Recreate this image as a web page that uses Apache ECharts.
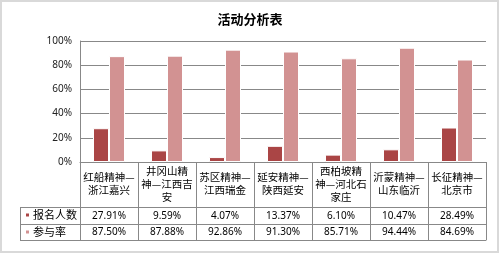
<!DOCTYPE html>
<html><head><meta charset="utf-8">
<script src="https://cdn.jsdelivr.net/npm/echarts@6/dist/echarts.min.js"></script>
<style>html,body{margin:0;padding:0;background:#fff}#c{width:500px;height:255px}</style>
</head><body><div id="c"></div>
<script>
var title = '活动分析表';
var categories = ['红船精神—\n浙江嘉兴', '井冈山精\n神—江西吉\n安', '苏区精神—\n江西瑞金', '延安精神—\n陕西延安', '西柏坡精\n神—河北石\n家庄', '沂蒙精神—\n山东临沂', '长征精神—\n北京市'];
var seriesNames = ['报名人数', '参与率'];
var signup = [27.91, 9.59, 4.07, 13.37, 6.10, 10.47, 28.49];
var participation = [87.50, 87.88, 92.86, 91.30, 85.71, 94.44, 84.69];
var yTicks = [0, 20, 40, 60, 80, 100];

var FONT = '"Noto Sans CJK SC", "Noto Sans", sans-serif';
var LINE = '#888888';
var chart = echarts.init(document.getElementById('c'), null, {renderer: 'canvas'});
function pct(v) { return v.toFixed(2) + '%'; }
var gl = 80, gr = 14, gt = 41, gb = 93;
chart.setOption({
  animation: false,
  textStyle: {fontFamily: FONT},
  title: {text: title, left: 'center', top: 8, textStyle: {fontSize: 13, fontWeight: 'bold', color: '#000', fontFamily: FONT}},
  legend: {
    orient: 'vertical', left: 24, top: 209, itemWidth: 5, itemHeight: 5, itemGap: 5,
    icon: 'rect', selectedMode: false, padding: 0,
    textStyle: {fontSize: 11, lineHeight: 12, height: 12, color: '#000', fontFamily: FONT, padding: [0, 0, 0, -2]},
    data: seriesNames
  },
  grid: {left: gl, right: gr, top: gt, bottom: gb},
  yAxis: {
    type: 'value', min: yTicks[0], max: yTicks[yTicks.length - 1], interval: 20,
    axisLine: {show: true, lineStyle: {color: LINE}},
    axisTick: {show: false},
    splitLine: {lineStyle: {color: '#888', width: 1}},
    axisLabel: {formatter: '{value}%', fontSize: 10, color: '#222', margin: 8, fontFamily: '"Noto Sans", sans-serif'}
  },
  xAxis: [
    {
      type: 'category', data: categories, position: 'bottom',
      axisLine: {show: true, lineStyle: {color: LINE}},
      axisTick: {show: true, length: 78, interval: 0, lineStyle: {color: LINE}},
      axisLabel: {interval: 0, fontSize: 10.5, lineHeight: 13, color: '#000', verticalAlign: 'middle', margin: 22, fontFamily: FONT}
    },
    {
      type: 'category', data: signup.map(pct), position: 'bottom', offset: 45,
      axisLine: {show: true, lineStyle: {color: LINE}}, axisTick: {show: false},
      axisLabel: {interval: 0, fontSize: 10, color: '#000', verticalAlign: 'middle', margin: 9, fontFamily: '"Noto Sans", sans-serif'}
    },
    {
      type: 'category', data: participation.map(pct), position: 'bottom', offset: 62,
      axisLine: {show: true, lineStyle: {color: LINE}}, axisTick: {show: false},
      axisLabel: {interval: 0, fontSize: 10, color: '#000', verticalAlign: 'middle', margin: 8, fontFamily: '"Noto Sans", sans-serif'}
    },
    {
      type: 'category', data: categories, position: 'bottom', offset: 78,
      axisLine: {show: true, lineStyle: {color: LINE}}, axisTick: {show: false}, axisLabel: {show: false}
    }
  ],
  series: [
    {name: seriesNames[0], type: 'bar', xAxisIndex: 0, data: signup,
     barWidth: 16, barGap: '0%', itemStyle: {color: '#AA4545', borderColor: '#fff', borderWidth: 1}},
    {name: seriesNames[1], type: 'bar', xAxisIndex: 0, data: participation,
     barWidth: 16, barGap: '0%', itemStyle: {color: '#D29292', borderColor: '#fff', borderWidth: 1}}
  ],
  graphic: [
    {type: 'rect', shape: {x: 1, y: 1, width: 497, height: 251}, style: {fill: 'none', stroke: '#D9D9D9', lineWidth: 2}, silent: true},
    {type: 'line', shape: {x1: 20, y1: 207.5, x2: 80, y2: 207.5}, style: {stroke: LINE, lineWidth: 1}},
    {type: 'line', shape: {x1: 20, y1: 224.5, x2: 80, y2: 224.5}, style: {stroke: LINE, lineWidth: 1}},
    {type: 'line', shape: {x1: 20, y1: 240.5, x2: 80, y2: 240.5}, style: {stroke: LINE, lineWidth: 1}},
    {type: 'line', shape: {x1: 20.5, y1: 207, x2: 20.5, y2: 241}, style: {stroke: LINE, lineWidth: 1}}
  ]
});
</script></body></html>
